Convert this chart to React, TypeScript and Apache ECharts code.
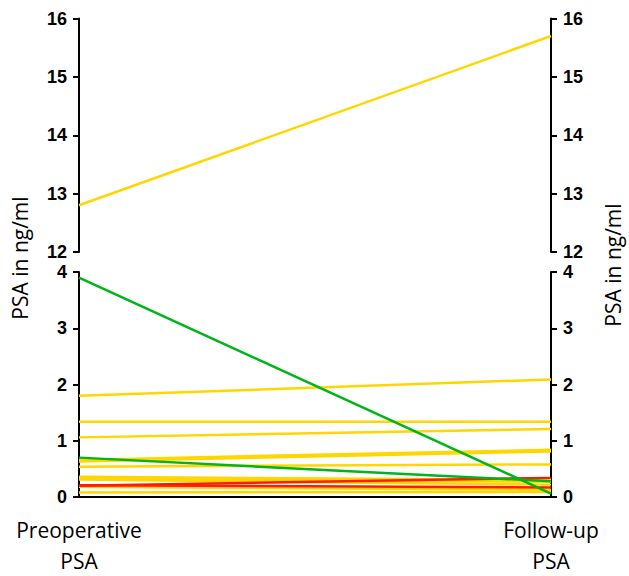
import React, { useEffect, useRef } from "react";
import * as echarts from "echarts";

const categories = ["Preoperative\nPSA", "Follow-up\nPSA"];

// top panel (12-16)
const topYellow: number[][] = [[12.8, 15.7]];

// bottom panel (0-4)
const yellowPairs: number[][] = [
  [1.8, 2.09],
  [1.34, 1.34],
  [1.06, 1.21],
  [0.66, 0.84],
  [0.63, 0.81],
  [0.54, 0.58],
  [0.36, 0.3],
  [0.33, 0.27],
  [0.31, 0.22],
  [0.18, 0.13],
  [0.08, 0.09],
];
const redPairs: number[][] = [
  [0.2, 0.34],
  [0.21, 0.17],
];
const greenPairs: number[][] = [
  [3.9, 0.06],
  [0.7, 0.28],
];

const topTicks = [12, 16];
const bottomTicks = [0, 4];

const YELLOW = "#FFD700";
const RED = "#FF1A00";
const GREEN = "#00B419";

export default function App() {
  const ref = useRef<HTMLDivElement>(null);
  useEffect(() => {
    if (!ref.current) return;
    const chart = echarts.init(ref.current, null, { renderer: "svg" });
    const tickLabel = {
      fontFamily: "Liberation Sans",
      fontWeight: "bold" as const,
      fontSize: 18,
      color: "#000",
      margin: 12,
    };
    const yAxisCommon = (min: number, max: number, grid: number, pos: "left" | "right") => ({
      type: "value" as const,
      gridIndex: grid,
      position: pos,
      min,
      max,
      interval: 1,
      axisLine: { show: true, lineStyle: { color: "#000", width: 2 } },
      axisTick: { show: true, length: 6, lineStyle: { color: "#000", width: 2 } },
      axisLabel: tickLabel,
      splitLine: { show: false },
    });
    const mk = (pairs: number[][], color: string, xi: number, yi: number, prefix: string) =>
      pairs.map((p, i) => ({
        name: `${prefix}${i}`,
        type: "line" as const,
        xAxisIndex: xi,
        yAxisIndex: yi,
        data: p,
        symbol: "none",
        lineStyle: { color, width: 2.5 },
        silent: true,
      }));
    chart.setOption({
      animation: false,
      backgroundColor: "#fff",
      grid: [
        { left: 79, right: 78, top: 18.5, height: 233.5 },
        { left: 79, right: 78, top: 272, height: 229 },
      ],
      xAxis: [
        {
          type: "category",
          gridIndex: 0,
          data: categories,
          boundaryGap: false,
          show: false,
        },
        {
          type: "category",
          gridIndex: 1,
          data: categories,
          boundaryGap: false,
          axisLine: { show: true, onZero: false, lineStyle: { color: "#000", width: 2 } },
          axisTick: { show: false },
          axisLabel: {
            fontFamily: "Open Sans",
            fontSize: 21,
            lineHeight: 31,
            color: "#000",
            margin: 17,
            interval: 0,
          },
          splitLine: { show: false },
        },
      ],
      yAxis: [
        yAxisCommon(topTicks[0], topTicks[1], 0, "left"),
        yAxisCommon(topTicks[0], topTicks[1], 0, "right"),
        yAxisCommon(bottomTicks[0], bottomTicks[1], 1, "left"),
        yAxisCommon(bottomTicks[0], bottomTicks[1], 1, "right"),
      ],
      series: [
        ...mk(topYellow, YELLOW, 0, 0, "ty"),
        ...mk(yellowPairs, YELLOW, 1, 2, "y"),
        ...mk(redPairs, RED, 1, 2, "r"),
        ...mk(greenPairs, GREEN, 1, 2, "g"),
      ],
      graphic: [
        {
          type: "text",
          x: 20,
          y: 258,
          rotation: Math.PI / 2,
          style: {
            text: "PSA in ng/ml",
            fontFamily: "Open Sans",
            fontSize: 21,
            fill: "#000",
            align: "center",
            verticalAlign: "middle",
          },
        },
        {
          type: "text",
          x: 613,
          y: 265,
          rotation: Math.PI / 2,
          style: {
            text: "PSA in ng/ml",
            fontFamily: "Open Sans",
            fontSize: 21,
            fill: "#000",
            align: "center",
            verticalAlign: "middle",
          },
        },
      ],
    });
    return () => chart.dispose();
  }, []);
  return (
    <div
      ref={ref}
      style={{ position: "fixed", left: 0, top: 0, width: 629, height: 576 }}
    />
  );
}
